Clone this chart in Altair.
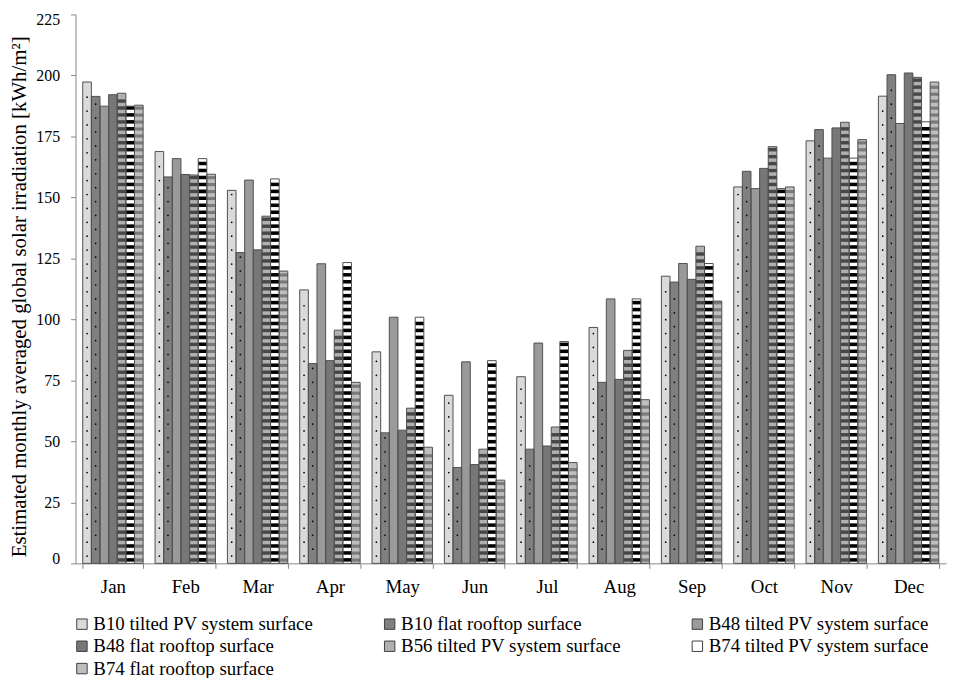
import altair as alt
import pandas as pd

months = ["Jan", "Feb", "Mar", "Apr", "May", "Jun", "Jul", "Aug", "Sep", "Oct", "Nov", "Dec"]
series = [
    "B10 tilted PV system surface",
    "B10 flat rooftop surface",
    "B48 tilted PV system surface",
    "B48 flat rooftop surface",
    "B56 tilted PV system surface",
    "B74 tilted PV system surface",
    "B74 flat rooftop surface",
]
b10_tilted = [197.3, 168.8, 152.9, 112.1, 86.7, 68.9, 76.5, 96.7, 117.7, 154.3, 173.2, 191.5]
b10_flat = [191.4, 158.4, 127.4, 81.9, 53.5, 39.3, 46.8, 74.2, 115.3, 160.7, 177.8, 200.3]
b48_tilted = [187.4, 165.9, 157.1, 122.8, 100.9, 82.6, 90.3, 108.4, 122.9, 153.6, 166.1, 180.3]
b48_flat = [192.1, 159.4, 128.5, 83.1, 54.6, 40.5, 48.1, 75.4, 116.4, 161.9, 178.5, 201.0]
b56_tilted = [192.7, 159.2, 142.3, 95.6, 63.6, 46.8, 55.9, 87.3, 130.0, 170.8, 180.8, 199.2]
b74_tilted = [187.4, 165.9, 157.6, 123.3, 100.9, 83.1, 90.9, 108.4, 122.9, 153.6, 166.1, 181.0]
b74_flat = [187.8, 159.5, 119.8, 74.2, 47.6, 34.1, 41.3, 67.1, 107.5, 154.3, 173.7, 197.3]

all_vals = [b10_tilted, b10_flat, b48_tilted, b48_flat, b56_tilted, b74_tilted, b74_flat]
rows = []
for s, vals in zip(series, all_vals):
    for m, v in zip(months, vals):
        rows.append({"month": m, "series": s, "value": v})
df = pd.DataFrame(rows)

fills = ["#dadada", "#808080", "#9a9a9a", "#777777", "#b0b0b0", "#ffffff", "#bebebe"]
FONT = "Liberation Serif"
YTITLE = "Estimated monthly averaged global solar irradiation [kWh/m²]"

xscale = alt.Scale(domain=months, paddingInner=0.165, paddingOuter=0.1)
xoscale = alt.Scale(domain=series)
yscale = alt.Scale(domain=[0, 225], nice=False)


def xaxis():
    return alt.Axis(title=None, tickBand="extent", labelAngle=0, labelFontSize=19,
                    labelPadding=9, tickSize=5)


def yaxis():
    return alt.Axis(values=list(range(0, 226, 25)), title=YTITLE,
                    titleFontSize=21, titleFontWeight="normal", titlePadding=6,
                    titleY=284, labelFlush=True, labelFlushOffset=3,
                    labelFontSize=16, labelPadding=11, tickSize=5)


def xenc():
    return alt.X("month:N", scale=xscale, axis=xaxis())


xo = alt.XOffset("series:N", scale=xoscale)

base = alt.Chart(df)

bars = base.mark_bar().encode(
    x=xenc(), xOffset=xo,
    y=alt.Y("value:Q", scale=yscale, axis=yaxis()),
    color=alt.Color(
        "series:N",
        scale=alt.Scale(domain=series, range=fills),
        legend=alt.Legend(
            title=None, orient="none", legendX=-3, legendY=604.5, columns=3,
            direction="horizontal", padding=0,
            symbolType="square", symbolSize=110, symbolStrokeColor="#404040",
            symbolStrokeWidth=1, labelFont=FONT, labelFontSize=19, labelColor="black",
            labelOffset=2, columnPadding=67, rowPadding=2.5, gridAlign="all",
            labelLimit=400,
        ),
    ),
)


def stripes(name, color, period, thick, start):
    return (
        base.transform_filter(alt.datum.series == name)
        .transform_calculate(ks=f"sequence({start}, datum.value - {thick}, {period})")
        .transform_flatten(["ks"])
        .transform_calculate(ke=f"datum.ks + {thick}")
        .mark_bar(color=color)
        .encode(
            x=xenc(),
            xOffset=xo,
            y=alt.Y("ks:Q", scale=yscale, axis=yaxis()),
            y2="ke:Q",
        )
    )


def dots(name, period, start):
    return (
        base.transform_filter(alt.datum.series == name)
        .transform_calculate(kd=f"sequence({start}, datum.value - 1.5, {period})")
        .transform_flatten(["kd"])
        .mark_circle(color="black", size=3, opacity=1)
        .encode(
            x=xenc(),
            xOffset=xo,
            y=alt.Y("kd:Q", scale=yscale, axis=yaxis()),
        )
    )


layers = [
    bars,
    stripes(series[4], "#474747", 2.85, 1.4, 0.7),
    stripes(series[5], "#000000", 2.85, 1.45, 0.7),
    stripes(series[6], "#7a7a7a", 2.85, 1.3, 0.7),
    dots(series[0], 5.7, 3.0),
    dots(series[1], 5.7, 5.8),
]

outline = base.mark_bar(fillOpacity=0, stroke="#505050", strokeWidth=1).encode(
    x=xenc(),
    xOffset=xo,
    y=alt.Y("value:Q", scale=yscale, axis=yaxis()),
)
layers.append(outline)

chart = (
    alt.layer(*layers)
    .properties(
        width=877, height=553,
        autosize=alt.AutoSizeParams(type="none"),
        padding={"left": 68, "top": 4, "right": 3, "bottom": 113},
    )
    .configure_view(stroke=None)
    .configure_axis(
        grid=False, domainColor="#868686", tickColor="#868686",
        labelFont=FONT, titleFont=FONT, labelColor="black", titleColor="black",
    )
)

chart.save("out.html", embed_options={"renderer": "svg", "actions": False})
